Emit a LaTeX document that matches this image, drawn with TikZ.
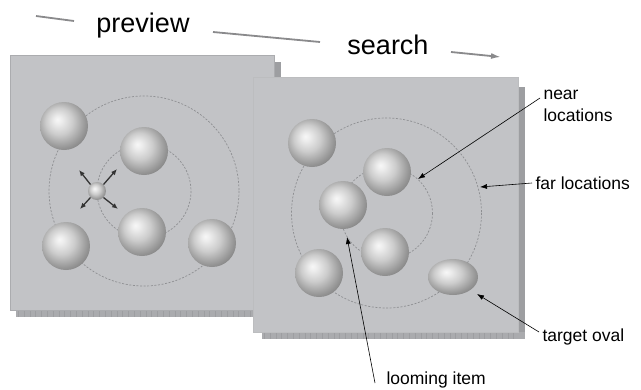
\documentclass[tikz,border=0pt]{standalone}
\usepackage{fontspec}
\setmainfont{Liberation Sans}
\usetikzlibrary{arrows.meta,shapes.geometric}
\definecolor{panelgray}{HTML}{C2C3C6}
\definecolor{paneledge}{HTML}{ABACAF}
\definecolor{shadowgray}{HTML}{9D9EA1}
\definecolor{floorgray}{HTML}{AAABAE}
\definecolor{linegray}{HTML}{8A8A8C}
\definecolor{ringgray}{HTML}{8E8F92}
\pgfdeclareradialshading{sphere}{\pgfpoint{-7bp}{7bp}}{%
  color(0bp)=(white!97!black); color(4bp)=(white!93!black);
  color(14bp)=(white!80!black); color(25bp)=(white!60!black);
  color(35bp)=(white!43!black); color(50bp)=(white!43!black)}
\newcommand{\ballsize}{48pt}

\begin{document}
\begin{tikzpicture}[x=1pt,y=-1pt,
  panel/.style={fill=panelgray, draw=paneledge, line width=1pt},
  ring/.style={draw=ringgray, line width=.7pt, dash pattern=on 2pt off 1.6pt},
  ball/.style={circle, inner sep=0pt, minimum size=\ballsize, shade, shading=sphere},
  label/.style={anchor=west, align=left, font=\fontsize{17.5}{21.5}\selectfont},
  phase/.style={font=\fontsize{27}{30}\selectfont},
  pointer/.style={-{Latex[length=7pt,width=5pt]}, line width=.6pt},
  jitter/.style={-{Latex[length=6pt,width=5pt]}, line width=1.3pt, black!80},
  timeline/.style={linegray, line width=1.8pt},
  floorticks/.style={draw=shadowgray, line width=6pt, dash pattern=on .8pt off 5pt}]
\useasboundingbox (0,0) rectangle (641,389);

% time line across the top
\node (preview) at (143,26) [phase] {preview};
\node (search) at (388,45) [phase] {search};
\coordinate (t0) at (36,16);
\coordinate (t1) at (74,21);
\coordinate (t2) at (213,32);
\coordinate (t3) at (320,42);
\coordinate (t4) at (451,52);
\coordinate (t5) at (501,57);
\draw[timeline] (t0) -- (t1);
\draw[timeline] (t2) -- (t3);
\draw[timeline, -{Latex[length=10pt,width=6pt]}] (t4) -- (t5);

% preview display
\fill[shadowgray] (274,62) rectangle (281,317);
\fill[floorgray] (16,310) rectangle (281,317);
\draw[floorticks] (18,313.5) -- (274,313.5);
\draw[panel] (10,55) rectangle (274,310);
\coordinate (lc) at (144,191);
\draw[ring] (lc) circle (95);
\draw[ring] (lc) circle (47);
\node (l1) at (64,126) [ball] {};
\node (l2) at (144,151) [ball] {};
\node (l3) at (66,246) [ball] {};
\node (l4) at (142,232) [ball] {};
\node (l5) at (212,243) [ball] {};
\node (probe) at (97,191) [circle, inner sep=0pt, minimum size=18pt, shade, shading=sphere] {};
\coordinate (pnw) at (79,170);
\coordinate (pne) at (117,169);
\coordinate (psw) at (80,209);
\coordinate (pse) at (118,209);
\draw[jitter] (probe.north west) -- (pnw);
\draw[jitter] (probe.north east) -- (pne);
\draw[jitter] (probe.south west) -- (psw);
\draw[jitter] (probe.south east) -- (pse);

% search display
\fill[shadowgray] (518,87) rectangle (525,339);
\fill[floorgray] (262,332) rectangle (525,339);
\draw[floorticks] (264,335.5) -- (518,335.5);
\draw[panel, draw=paneledge!80!white] (253,77) rectangle (518,332);
\coordinate (rc) at (386.5,213);
\draw[ring] (rc) circle (95);
\draw[ring] (rc) circle (46);
\node (r1) at (312,143) [ball] {};
\node (r2) at (387,172) [ball] {};
\node (loom) at (343,205) [ball] {};
\node (r4) at (385,252) [ball] {};
\node (r5) at (319,273) [ball] {};
\node (target) at (453,277) [ellipse, inner sep=0pt, minimum width=50pt, minimum height=36pt, shade, shading=sphere] {};

% labels and pointers
\node (nearlab) at (540,106) [label] {near\\locations};
\node (farlab) at (532,183) [label] {far locations};
\node (targetlab) at (539,337) [label] {target oval};
\node (loomlab) at (383,380) [label] {looming item};
\coordinate (nearpt) at (418,179);
\coordinate (farpt) at (480,187);
\coordinate (targetpt) at (477,294);
\coordinate (loompt) at (347,237);
\draw[pointer] ([yshift=8pt]nearlab.west) -- (nearpt);
\draw[pointer] (farlab.west) -- (farpt);
\draw[pointer] ([yshift=5pt]targetlab.west) -- (targetpt);
\draw[pointer] ([xshift=-8pt,yshift=-3pt]loomlab.west) -- (loompt);

\end{tikzpicture}
\end{document}
